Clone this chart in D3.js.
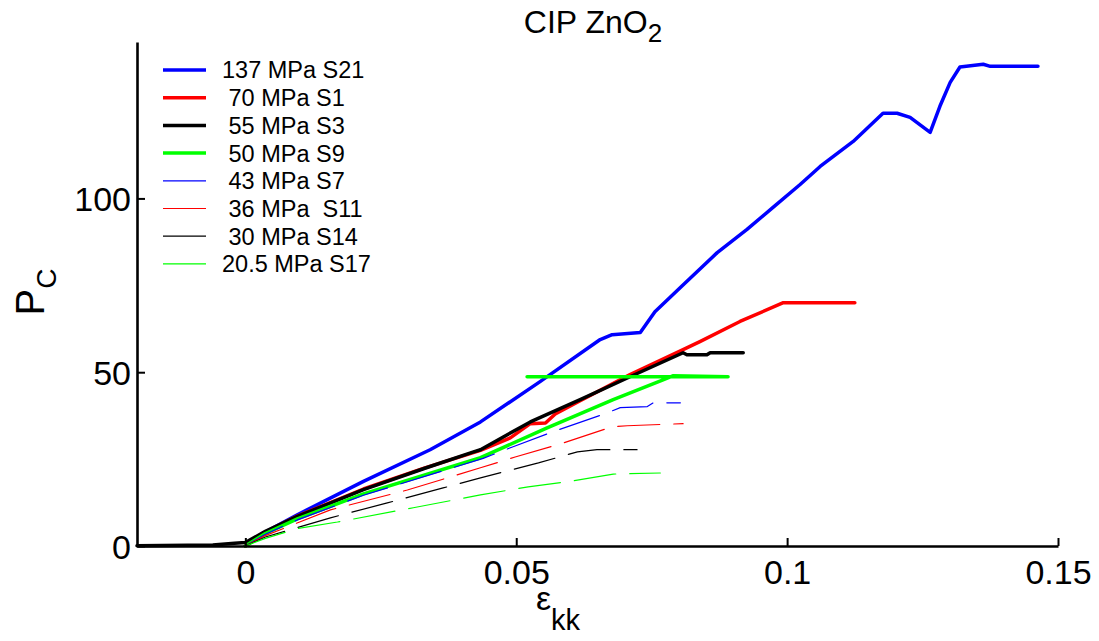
<!DOCTYPE html>
<html><head><meta charset="utf-8">
<script src="https://cdn.jsdelivr.net/npm/d3@7"></script>
<style>
body{margin:0;background:#fff}
text{font-family:"Liberation Sans",Arial,Helvetica,sans-serif;fill:#000}
</style>
</head><body>
<svg id="c" width="1099" height="641"></svg>
<script>
// ---------- data ----------
const seriesNames = ["137 MPa S21", " 70 MPa S1", " 55 MPa S3", " 50 MPa S9", " 43 MPa S7", " 36 MPa  S11", " 30 MPa S14", "20.5 MPa S17"];
const seriesColors = ["#0000ff", "#ff0000", "#000000", "#00ff00", "#0000ff", "#ff0000", "#000000", "#00ff00"];
const seriesThick = [true, true, true, true, false, false, false, false];
const xTicks = [0, 0.05, 0.1, 0.15];
const xTickLabels = ["0", "0.05", "0.1", "0.15"];
const yTicks = [0, 50, 100];
const yTickLabels = ["0", "50", "100"];

const s21 = [[0,0],[0.0037,4.0],[0.0096,9.0],[0.0218,18.6],[0.0341,27.7],[0.0434,35.7],[0.0544,47.3],[0.0655,59.4],[0.0677,60.8],[0.0729,61.4],[0.0756,67.4],[0.0803,74.4],[0.0871,84.4],[0.0926,91.1],[0.0974,97.4],[0.1024,104.0],[0.1061,109.2],[0.1122,116.4],[0.1177,124.5],[0.1203,124.5],[0.1227,123.3],[0.1264,119.0],[0.1282,126.5],[0.1301,133.4],[0.1319,137.8],[0.1362,138.6],[0.1375,138.0],[0.1463,138.0]];
const s1 = [[0,0],[0.0037,4.0],[0.0096,8.6],[0.0218,16.4],[0.0330,22.4],[0.0434,27.5],[0.0489,31.1],[0.0526,35.2],[0.0554,35.4],[0.0572,38.0],[0.0618,41.8],[0.0710,49.3],[0.0808,56.5],[0.0839,58.8],[0.0913,64.6],[0.0993,70.0],[0.1048,70.0],[0.1125,70.0]];
const s3 = [[-0.02,0.1],[-0.006,0.3],[-0.002,0.8],[0,1.0],[0.0037,4.2],[0.0096,8.5],[0.0218,16.2],[0.0330,22.3],[0.0420,27.0],[0.0434,27.7],[0.0526,35.7],[0.0618,42.1],[0.0710,48.7],[0.0808,55.6],[0.0815,55.0],[0.0852,55.0],[0.0858,55.6],[0.0919,55.6]];
const s9 = [[0,0],[0.0037,3.6],[0.0096,7.8],[0.0218,15.0],[0.0434,25.4],[0.0557,34.0],[0.0679,42.1],[0.0771,47.8],[0.0790,49.0],[0.0891,48.7],[0.0520,48.7]];
const s7 = [[0,0],[0.0037,3.4],[0.0096,7.5],[0.0218,14.6],[0.0439,25.2],[0.0493,28.5],[0.0568,32.9],[0.0668,38.3],[0.0692,39.8],[0.0742,40.1],[0.0753,41.2],[0.0803,41.2]];
const s11 = [[0,0],[0.0037,3.0],[0.0157,10.4],[0.0299,16.1],[0.0434,22.5],[0.0498,25.6],[0.0576,29.1],[0.0677,34.3],[0.0705,34.6],[0.0808,35.2]];
const s14 = [[0,0],[0.0037,2.6],[0.0157,8.1],[0.0262,12.4],[0.0365,16.7],[0.0434,19.6],[0.0541,23.9],[0.0613,27.1],[0.0649,27.7],[0.0723,27.7]];
const s17 = [[0,0],[0.0037,2.2],[0.0096,5.0],[0.0170,6.9],[0.0310,11.0],[0.0434,14.7],[0.0522,17.0],[0.0603,18.7],[0.0679,20.7],[0.0766,21.0]];
const seriesData = [s21, s1, s3, s9, s7, s11, s14, s17];

// ---------- chart ----------
const svg = d3.select("#c");
const x = d3.scaleLinear().domain([-0.02, 0.15]).range([137, 1058]);
const y = d3.scaleLinear().domain([0, 145]).range([546, 42]);

const line = d3.line().x(d => x(d[0])).y(d => y(d[1]));

seriesData.forEach((d, i) => {
  svg.append("path")
    .attr("d", line(d))
    .attr("fill", "none")
    .attr("stroke", seriesColors[i])
    .attr("stroke-width", seriesThick[i] ? 3.5 : 1.2)
    .attr("stroke-linejoin", "round")
    .attr("stroke-linecap", "round")
    .attr("stroke-dasharray", seriesThick[i] ? null : "42,14");
});

// axes
const xAxis = d3.axisBottom(x).tickValues(xTicks).tickFormat((d, i) => xTickLabels[i])
  .tickSizeInner(-8).tickSizeOuter(0).tickPadding(14);
const gx = svg.append("g").attr("transform", `translate(0,${y(0)})`).call(xAxis);
const yAxis = d3.axisLeft(y).tickValues(yTicks).tickFormat((d, i) => yTickLabels[i])
  .tickSizeInner(-8).tickSizeOuter(0).tickPadding(6);
const gy = svg.append("g").attr("transform", `translate(${x(-0.02)},0)`).call(yAxis);
[gx, gy].forEach(g => {
  g.select(".domain").attr("stroke", "#000").attr("stroke-width", 2.6);
  g.selectAll(".tick line").attr("stroke", "#000").attr("stroke-width", 2);
  g.selectAll(".tick text").style("font-size", "34px").attr("fill", "#000")
    .style("font-family", '"Liberation Sans",Arial,sans-serif');
});
gx.selectAll(".tick text").attr("dy", "0.71em");
gy.selectAll(".tick text").attr("dy", "0.36em");

// title
const title = svg.append("text").attr("x", 593).attr("y", 33).attr("text-anchor", "middle").style("font-size", "32px");
title.append("tspan").text("CIP ZnO");
title.append("tspan").text("2").attr("dy", 9).style("font-size", "26px");

// x label
const xl = svg.append("text").attr("x", 558).attr("y", 610).attr("text-anchor", "middle").style("font-size", "34px");
xl.append("tspan").text("ε");
xl.append("tspan").text("kk").attr("dy", 20).style("font-size", "29px");

// y label
const yl = svg.append("text").attr("transform", "translate(44,292) rotate(-90)").attr("text-anchor", "middle").style("font-size", "40px");
yl.append("tspan").text("P");
yl.append("tspan").text("C").attr("dy", 12).style("font-size", "28px");

// legend
const lg = svg.append("g");
seriesNames.forEach((n, i) => {
  const yy = 70 + i * 27.7;
  lg.append("line").attr("x1", 163).attr("x2", 206).attr("y1", yy).attr("y2", yy)
    .attr("stroke", seriesColors[i]).attr("stroke-width", seriesThick[i] ? 3.5 : 1.2);
  lg.append("text").attr("x", 222).attr("y", yy).attr("dy", "0.36em")
    .attr("xml:space", "preserve").style("white-space", "pre").style("font-size", "23.5px").text(n);
});
</script>
</body></html>
